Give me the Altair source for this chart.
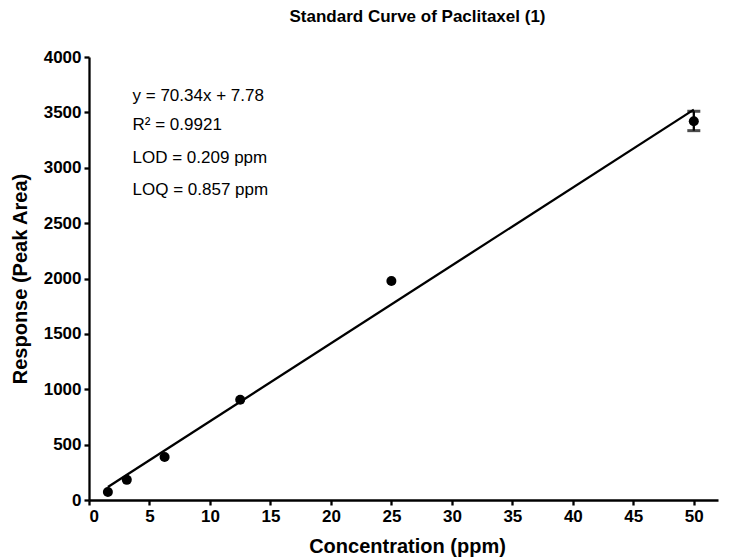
import altair as alt
import pandas as pd

conc = [1.5625, 3.125, 6.25, 12.5, 25, 50]
resp = [72, 182, 388, 905, 1977, 3420]
err_low = [72, 182, 388, 905, 1977, 3335]
err_high = [72, 182, 388, 905, 1977, 3510]

slope = 70.34
intercept = 7.78
fit_x = [1.5625, 50]

ann_text = ["y = 70.34x + 7.78", "R² = 0.9921", "LOD = 0.209 ppm", "LOQ = 0.857 ppm"]
ann_x = [3.6, 3.6, 3.6, 3.6]
ann_y = [3646, 3384, 3087, 2798]

x_ticks = [0, 5, 10, 15, 20, 25, 30, 35, 40, 45, 50]
y_ticks = [0, 500, 1000, 1500, 2000, 2500, 3000, 3500, 4000]

FONT = "Liberation Sans"

df = pd.DataFrame({"conc": conc, "resp": resp, "lo": err_low, "hi": err_high})
fit = pd.DataFrame({"conc": fit_x, "resp": [slope * v + intercept for v in fit_x]})
ann = pd.DataFrame({"t": ann_text, "x": ann_x, "y": ann_y})
errdf = df[df["hi"] > df["lo"]]

xs = alt.Scale(domain=[0, 52], nice=False, zero=False)
ys = alt.Scale(domain=[0, 4000], nice=False)

xax = alt.Axis(values=x_ticks, title="Concentration (ppm)", grid=False, format="d",
               titleX=318, titlePadding=12)
yax = alt.Axis(values=y_ticks, title="Response (Peak Area)", grid=False, format="d",
               titlePadding=13)

line = alt.Chart(fit).mark_line(color="black", strokeWidth=2.3).encode(
    x=alt.X("conc:Q", scale=xs, axis=xax),
    y=alt.Y("resp:Q", scale=ys, axis=yax),
)
pts = alt.Chart(df).mark_point(filled=True, color="black", opacity=1, size=100, shape="circle").encode(
    x=alt.X("conc:Q", scale=xs), y=alt.Y("resp:Q", scale=ys)
)
eb = alt.Chart(errdf).mark_rule(color="black", strokeWidth=2.3).encode(
    x=alt.X("conc:Q", scale=xs), y=alt.Y("lo:Q", scale=ys), y2="hi:Q"
)
cap_hi = alt.Chart(errdf).mark_tick(color="black", thickness=3, size=13, orient="horizontal").encode(
    x=alt.X("conc:Q", scale=xs), y=alt.Y("hi:Q", scale=ys)
)
cap_lo = alt.Chart(errdf).mark_tick(color="black", thickness=3, size=13, orient="horizontal").encode(
    x=alt.X("conc:Q", scale=xs), y=alt.Y("lo:Q", scale=ys)
)
txt = alt.Chart(ann).mark_text(align="left", baseline="middle", font=FONT, fontSize=17, color="black").encode(
    x=alt.X("x:Q", scale=xs), y=alt.Y("y:Q", scale=ys), text="t:N"
)

chart = alt.layer(line, eb, cap_hi, cap_lo, pts, txt).properties(
    width=629, height=443,
    title=alt.TitleParams("Standard Curve of Paclitaxel (1)", font=FONT, fontSize=17, fontWeight="bold",
                          color="black", anchor="middle", offset=22, dx=14),
    autosize=alt.AutoSizeParams(type="none"),
    padding={"left": 89, "top": 57, "right": 14, "bottom": 59},
).configure_view(stroke=None).configure_axis(
    domainColor="black", domainWidth=2.3, tickColor="black", tickWidth=2.3, tickSize=5,
    labelFont=FONT, labelFontSize=17, labelFontWeight="bold", labelColor="black",
    titleFont=FONT, titleFontSize=20, titleFontWeight="bold", titleColor="black",
    labelPadding=3,
)

chart.save("out.html", embed_options={"renderer": "svg", "actions": False})
